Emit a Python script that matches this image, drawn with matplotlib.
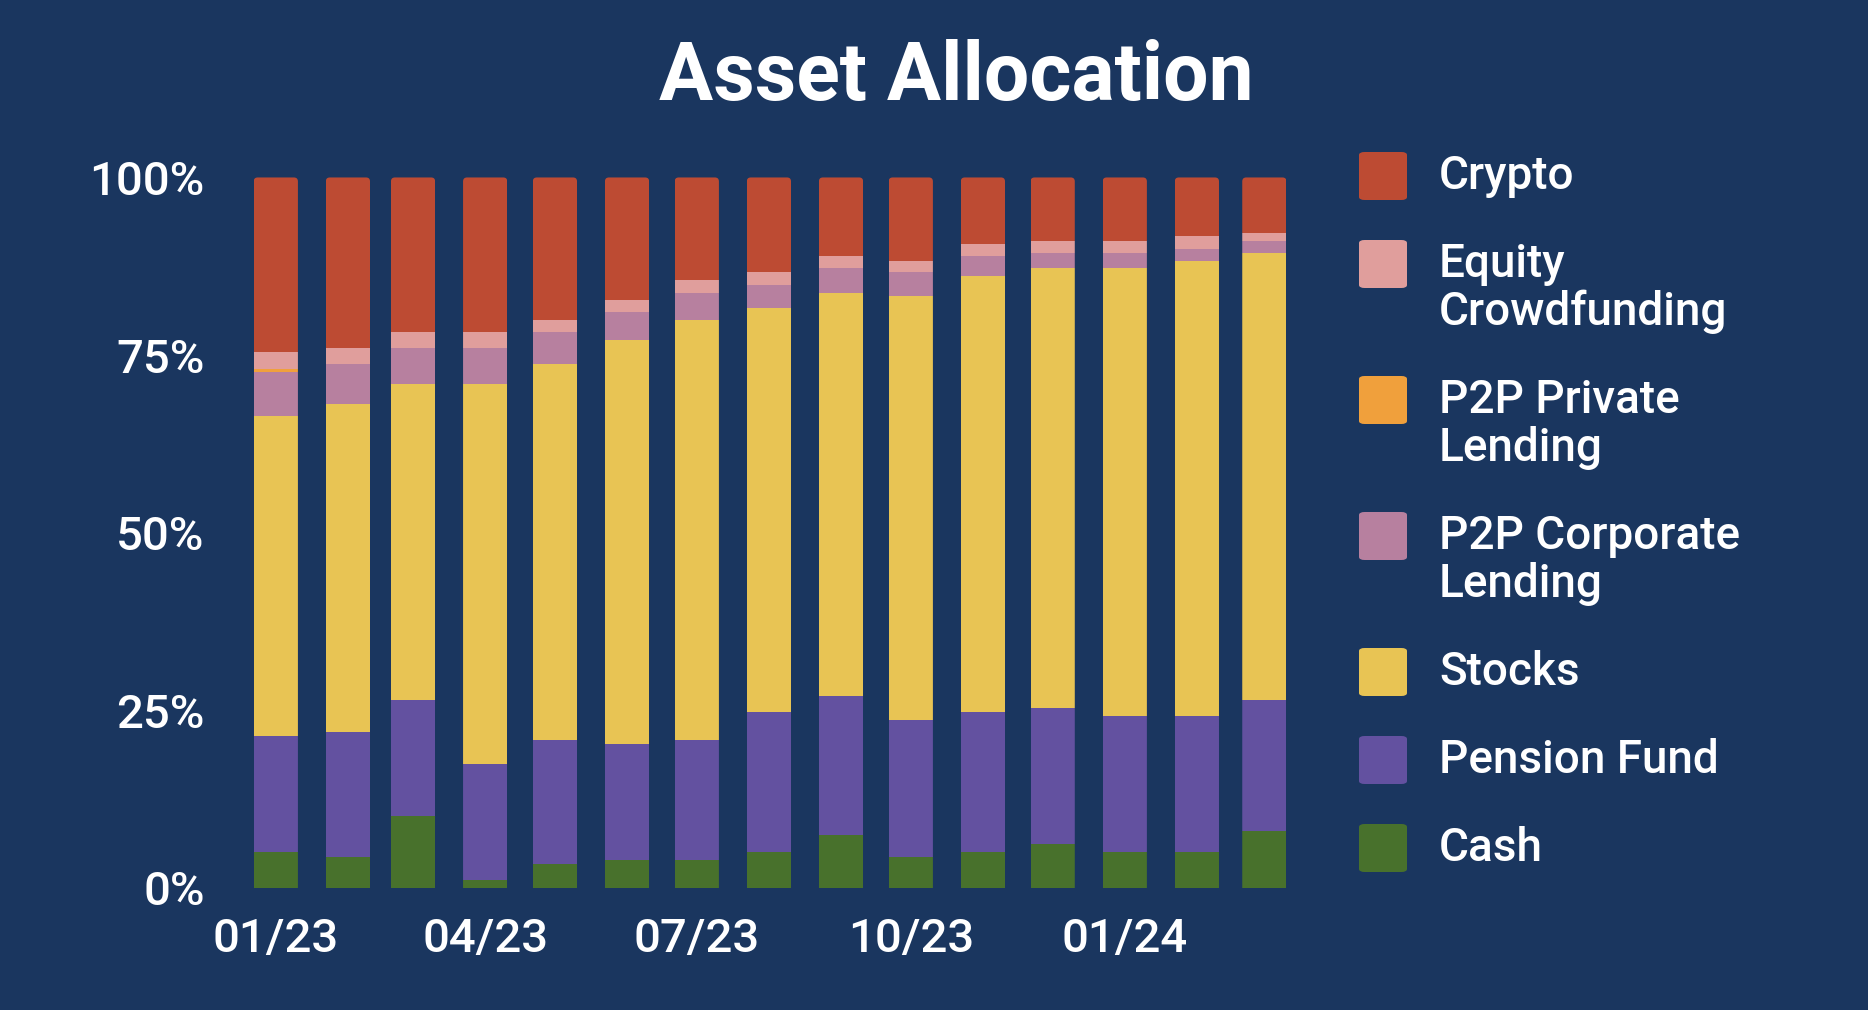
import datetime as dt

import matplotlib
matplotlib.use("Agg")
import matplotlib.dates as mdates
import matplotlib.pyplot as plt
from matplotlib.patches import FancyBboxPatch
from matplotlib.ticker import FixedLocator, FuncFormatter

plt.rcParams["font.family"] = ["Roboto", "DejaVu Sans"]
plt.rcParams["font.weight"] = "medium"

months = [dt.date(2023, m, 1) for m in range(1, 13)] + [dt.date(2024, m, 1) for m in range(1, 4)]

# shares in %, bottom to top
cash = [5.1, 4.4, 10.2, 1.1, 3.4, 3.9, 3.9, 5.1, 7.4, 4.4, 5.1, 6.2, 5.1, 5.1, 8.0]
pension = [16.3, 17.6, 16.3, 16.4, 17.4, 16.4, 16.9, 19.7, 19.6, 19.2, 19.7, 19.1, 19.1, 19.1, 18.5]
stocks = [45.0, 46.1, 44.4, 53.4, 52.9, 56.8, 59.1, 56.8, 56.8, 59.7, 61.3, 61.9, 63.0, 64.1, 62.9]
p2p_corporate = [6.2, 5.6, 5.1, 5.1, 4.5, 3.9, 3.9, 3.3, 3.4, 3.4, 2.8, 2.2, 2.2, 1.7, 1.7]
p2p_private = [0.5, 0, 0, 0, 0, 0, 0, 0, 0, 0, 0, 0, 0, 0, 0]
equity = [2.3, 2.3, 2.2, 2.2, 1.7, 1.7, 1.7, 1.8, 1.7, 1.6, 1.7, 1.7, 1.7, 1.7, 1.1]
crypto = [24.6, 24.0, 21.8, 21.8, 20.1, 17.3, 14.5, 13.3, 11.1, 11.7, 9.4, 8.9, 8.9, 8.3, 7.8]

series = [cash, pension, stocks, p2p_corporate, p2p_private, equity, crypto]
labels = ["Cash", "Pension Fund", "Stocks", "P2P Corporate\nLending",
          "P2P Private\nLending", "Equity\nCrowdfunding", "Crypto"]
colors = ["#48712c", "#6351a0", "#e8c454", "#b7809f", "#f0a03c", "#e09e9c", "#bd4b33"]

bg = "#1a365f"
fig = plt.figure(figsize=(18.68, 10.10), dpi=100, facecolor=bg)
ax = fig.add_axes([0.1103, 0.1208, 0.6039, 0.7035], facecolor=bg)

bar_w = 19
containers = []
bottom = [0] * len(months)
for vals, col in zip(series, colors):
    containers.append(ax.bar(months, vals, bottom=bottom, width=bar_w, color=col, linewidth=0))
    bottom = [b + v for b, v in zip(bottom, vals)]

# rounded top corners: clip each stack to a rounded box
for i, d in enumerate(months):
    x0 = mdates.date2num(d) - bar_w / 2
    clip = FancyBboxPatch((x0, -10), bar_w, bottom[i] + 10,
                          boxstyle="round,pad=0,rounding_size=1.7",
                          mutation_aspect=0.33, transform=ax.transData,
                          facecolor="none", edgecolor="none")
    ax.add_patch(clip)
    for c in containers:
        c.patches[i].set_clip_path(clip)

ax.set_ylim(0, 100)
ax.set_xlim(dt.date(2022, 12, 2), dt.date(2024, 3, 31))
ax.yaxis.set_major_locator(FixedLocator([0, 25, 50, 75, 100]))
ax.yaxis.set_major_formatter(FuncFormatter(lambda v, p: f"{v:.0f}%"))
ax.xaxis.set_major_locator(mdates.MonthLocator(bymonth=[1, 4, 7, 10]))
ax.xaxis.set_major_formatter(mdates.DateFormatter("%m/%y"))
ax.tick_params(axis="both", length=0, colors="white", labelsize=34)
ax.tick_params(axis="x", pad=21)
ax.tick_params(axis="y", pad=1)
for s in ax.spines.values():
    s.set_visible(False)

fig.text(0.512, 0.923, "Asset Allocation", color="white", fontsize=58,
         fontweight="bold", ha="center", va="center")

# legend, top to bottom
W, H = 1868, 1010
y = 176
for lab, col in zip(labels[::-1], colors[::-1]):
    fig.add_artist(FancyBboxPatch((1359 / W, (H - y - 24) / H), 48 / W, 48 / H,
                                  boxstyle="round,pad=0,rounding_size=0.003",
                                  transform=fig.transFigure, color=col, linewidth=0))
    lines = lab.split("\n")
    for k, ln in enumerate(lines):
        fig.text(1439 / W, (H - y - 48 * k) / H, ln, color="white", fontsize=33,
                 ha="left", va="center")
    y += 88 + 48 * (len(lines) - 1)

fig.savefig("out.png", dpi=100, facecolor=bg)
